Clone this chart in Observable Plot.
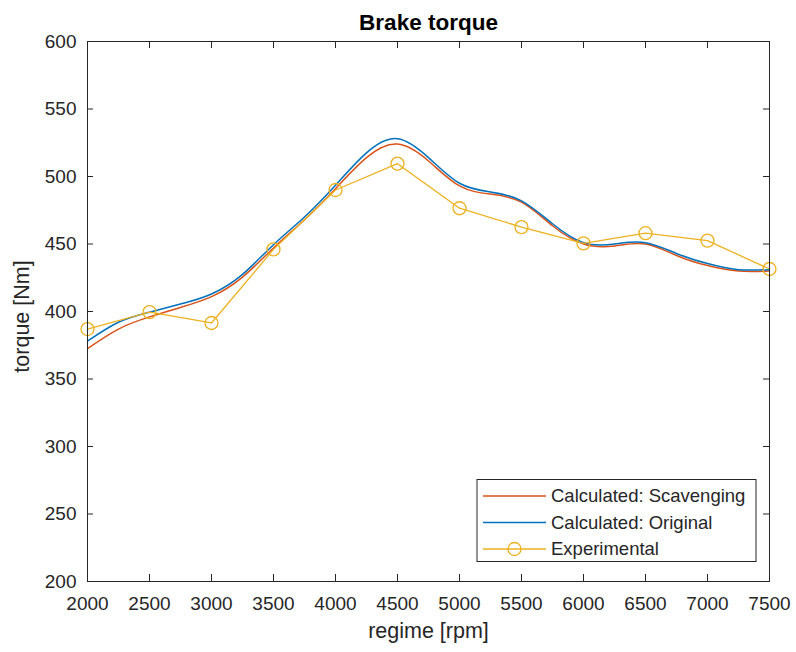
<!DOCTYPE html>
<html>
<head>
<meta charset="utf-8">
<script src="https://cdn.jsdelivr.net/npm/d3@7"></script>
<script src="https://cdn.jsdelivr.net/npm/@observablehq/plot@0.6"></script>
<style>
  html, body { margin: 0; padding: 0; background: #fff; }
  #chart svg { display: block; }
</style>
</head>
<body>
<div id="chart"></div>
<script>
// Engine speed grid for the simulated curves [rpm]
const rpmCalc = [2000, 2250, 2500, 2750, 3000, 3250, 3500, 3750, 4000, 4250, 4500, 4750,
                 5000, 5250, 5500, 5750, 6000, 6250, 6500, 6750, 7000, 7250, 7500];
// Calculated brake torque with scavenging model [Nm]
const torqueScavenging = [372.5, 387, 396, 403, 411, 425.5, 447, 468, 491, 514, 524, 511.5,
                          493, 487, 481, 463.5, 450, 448.5, 450, 441.5, 434, 430, 430];
// Calculated brake torque, original model [Nm]
const torqueOriginal = [378, 392, 399.5, 405.5, 413, 427.5, 449.5, 470, 493.5, 517.5, 528, 514,
                        495, 488.5, 482, 465, 451, 450, 451, 443, 435.5, 431, 431];
// Bench measurements
const rpmExp = [2000, 2500, 3000, 3500, 4000, 4500, 5000, 5500, 6000, 6500, 7000, 7500];
const torqueExp = [387, 399.5, 391.5, 446, 490, 509.5, 476.5, 462.5, 450.5, 458, 452.5, 431.5];

const xTicks = [2000, 2500, 3000, 3500, 4000, 4500, 5000, 5500, 6000, 6500, 7000, 7500];
const yTicks = [200, 250, 300, 350, 400, 450, 500, 550, 600];

const seriesNames = ["Calculated: Scavenging", "Calculated: Original", "Experimental"];
const seriesColors = ["#D95319", "#0072BD", "#EDB120"];

const scavRows = rpmCalc.map((r, i) => ({rpm: r, torque: torqueScavenging[i]}));
const origRows = rpmCalc.map((r, i) => ({rpm: r, torque: torqueOriginal[i]}));
const expRows = rpmExp.map((r, i) => ({rpm: r, torque: torqueExp[i]}));

const font = "'Liberation Sans', Arial, Helvetica, sans-serif";
const axisColor = "#262626";
const W = 796, H = 652;
const mL = 87, mR = 27, mT = 41, mB = 71;
const frameW = W - mL - mR, frameH = H - mT - mB;
const tickLen = 7;

const chart = Plot.plot({
  width: W, height: H,
  marginLeft: mL, marginRight: mR, marginTop: mT, marginBottom: mB,
  style: {fontFamily: font, color: axisColor, background: "white", overflow: "visible"},
  x: {domain: [2000, 7500]},
  y: {domain: [200, 600]},
  marks: [
    // tick labels
    Plot.axisX({ticks: xTicks, tickSize: 0, tickPadding: 15, fontSize: 19, tickFormat: d => String(d), label: null}),
    Plot.axisY({ticks: yTicks, tickSize: 0, tickPadding: 11, fontSize: 19, tickFormat: d => String(d), label: null}),
    // inward tick marks on all four sides
    Plot.tickX(xTicks, {x: d => d, insetTop: frameH - tickLen, stroke: axisColor}),
    Plot.tickX(xTicks, {x: d => d, insetBottom: frameH - tickLen, stroke: axisColor}),
    Plot.tickY(yTicks, {y: d => d, insetRight: frameW - tickLen + 1, stroke: axisColor}),
    Plot.tickY(yTicks, {y: d => d, insetLeft: frameW - tickLen + 1, stroke: axisColor}),
    // data
    Plot.line(scavRows, {x: "rpm", y: "torque", curve: "natural", stroke: seriesColors[0], strokeWidth: 1.5}),
    Plot.line(origRows, {x: "rpm", y: "torque", curve: "natural", stroke: seriesColors[1], strokeWidth: 1.5}),
    Plot.line(expRows, {x: "rpm", y: "torque", stroke: seriesColors[2], strokeWidth: 1.3}),
    Plot.dot(expRows, {x: "rpm", y: "torque", r: 6.5, stroke: seriesColors[2], strokeWidth: 1.3, fill: "none"}),
    Plot.frame({stroke: axisColor, strokeWidth: 1}),
    // title and axis labels
    Plot.text(["Brake torque"], {frameAnchor: "top", dy: -19, text: d => d, textAnchor: "middle", lineAnchor: "middle",
      fontSize: 22.5, fontWeight: "bold", fill: "#000"}),
    Plot.text(["regime [rpm]"], {frameAnchor: "bottom", dy: 50, text: d => d, textAnchor: "middle", lineAnchor: "middle",
      fontSize: 21.5, fill: axisColor}),
    Plot.text(["torque [Nm]"], {frameAnchor: "left", dx: -65, dy: 5, rotate: -90, text: d => d, textAnchor: "middle",
      lineAnchor: "middle", fontSize: 21.5, fill: axisColor})
  ]
});

// Legend box in the lower right corner of the axes
const svg = d3.select(chart);
const legend = svg.append("g").attr("font-family", font).attr("font-size", 18.5).attr("text-anchor", "start");
legend.append("rect")
  .attr("x", 477).attr("y", 479.5).attr("width", 279).attr("height", 82)
  .attr("fill", "white").attr("stroke", axisColor).attr("stroke-width", 1);
seriesNames.forEach((name, i) => {
  const cy = 496 + i * 26.5;
  legend.append("line")
    .attr("x1", 483).attr("x2", 546).attr("y1", cy).attr("y2", cy)
    .attr("stroke", seriesColors[i]).attr("stroke-width", i === 2 ? 1.3 : 1.5);
  if (i === 2) {
    legend.append("circle").attr("cx", 514.5).attr("cy", cy).attr("r", 6.5)
      .attr("fill", "none").attr("stroke", seriesColors[i]).attr("stroke-width", 1.3);
  }
  legend.append("text").attr("x", 551).attr("y", cy).attr("dy", "0.35em")
    .attr("text-anchor", "start").attr("fill", axisColor).text(name);
});

document.getElementById("chart").appendChild(chart);
</script>
</body>
</html>
